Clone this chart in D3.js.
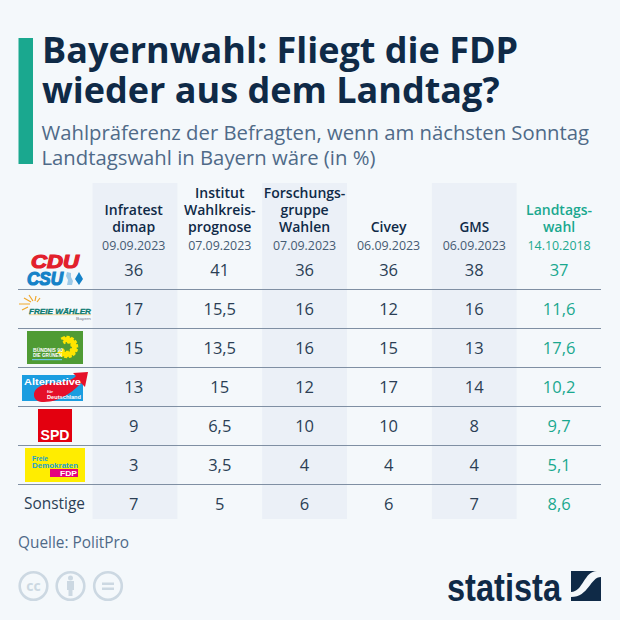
<!DOCTYPE html>
<html>
<head>
<meta charset="utf-8">
<script src="https://cdn.jsdelivr.net/npm/d3@7"></script>
<style>
  html, body { margin: 0; padding: 0; background: #f4f8fb; }
  text { font-family: "Open Sans", sans-serif; }
</style>
</head>
<body>
<div id="chart"></div>
<script>
// the data
var institutes = [
  ["Infratest", "dimap"],
  ["Institut", "Wahlkreis-", "prognose"],
  ["Forschungs-", "gruppe", "Wahlen"],
  ["Civey"],
  ["GMS"],
  ["Landtags-", "wahl"]
];
var dates = ["09.09.2023", "07.09.2023", "07.09.2023", "06.09.2023", "06.09.2023", "14.10.2018"];
var parties = ["CDU/CSU", "Freie Wähler", "Grüne", "AfD", "SPD", "FDP", "Sonstige"];
var infratest = ["36", "17", "15", "13", "9", "3", "7"];
var wahlkreis = ["41", "15,5", "13,5", "15", "6,5", "3,5", "5"];
var forschung = ["36", "16", "16", "12", "10", "4", "6"];
var civey = ["36", "12", "15", "17", "10", "4", "6"];
var gms = ["38", "16", "13", "14", "8", "4", "7"];
var landtag = ["37", "11,6", "17,6", "10,2", "9,7", "5,1", "8,6"];
var columns = [infratest, wahlkreis, forschung, civey, gms, landtag];

var dark = "#0f2a47", green = "#1aa88f", grey = "#4f6a88", bg = "#f4f8fb";
var logoFont = "'Liberation Sans', sans-serif";

var svg = d3.select("#chart").append("svg")
  .attr("width", 620)
  .attr("height", 620)
  .style("display", "block");

svg.append("rect").attr("width", 620).attr("height", 620).attr("fill", bg);

// title block
svg.append("rect").attr("x", 18.5).attr("y", 38).attr("width", 14.5).attr("height", 126).attr("fill", green);

svg.selectAll(".title")
  .data(["Bayernwahl: Fliegt die FDP", "wieder aus dem Landtag?"])
  .enter().append("text")
  .attr("class", "title")
  .attr("x", 42)
  .attr("y", function (d, i) { return 63 + i * 40; })
  .attr("font-size", 36)
  .attr("font-weight", 700)
  .attr("fill", dark)
  .text(function (d) { return d; });

svg.selectAll(".subtitle")
  .data(["Wahlpräferenz der Befragten, wenn am nächsten Sonntag", "Landtagswahl in Bayern wäre (in %)"])
  .enter().append("text")
  .attr("class", "subtitle")
  .attr("x", 41.5)
  .attr("y", function (d, i) { return 140 + i * 24.5; })
  .attr("font-size", 20.3)
  .attr("fill", grey)
  .text(function (d) { return d; });

// scales for the table
var x = d3.scaleBand().domain(d3.range(6)).range([92.5, 601.5]).padding(0);
var y = d3.scaleBand().domain(parties).range([250.5, 523.5]).padding(0);

// text centre of a column, the first ones sit a little left of the band centre
function colCenter(c) {
  return x(c) + x.bandwidth() / 2 - (c === 0 ? 1.2 : c === 3 ? 0.8 : 0);
}

// shaded columns
svg.selectAll(".band")
  .data([0, 2, 4])
  .enter().append("rect")
  .attr("class", "band")
  .attr("x", function (d) { return x(d); })
  .attr("y", 183)
  .attr("width", x.bandwidth())
  .attr("height", 336)
  .attr("fill", "#ebf0f7");

// row lines
svg.selectAll(".rule")
  .data(parties.slice(0, 6))
  .enter().append("line")
  .attr("class", "rule")
  .attr("x1", 18)
  .attr("x2", 601)
  .attr("y1", function (d) { return Math.round(y(d) + y.bandwidth()) - 0.5; })
  .attr("y2", function (d) { return Math.round(y(d) + y.bandwidth()) - 0.5; })
  .attr("stroke", "#7f8fa3")
  .attr("stroke-width", 1);

// column headers
institutes.forEach(function (lines, c) {
  var cx = colCenter(c);
  var col = c === 5 ? green : dark;
  lines.forEach(function (line, i) {
    svg.append("text")
      .attr("x", cx)
      .attr("y", 232 - (lines.length - 1 - i) * 17)
      .attr("text-anchor", "middle")
      .attr("font-size", line === "GMS" ? 13.5 : 14)
      .attr("font-weight", 600)
      .attr("fill", col)
      .text(line);
  });
  svg.append("text")
    .attr("x", cx)
    .attr("y", 250)
    .attr("text-anchor", "middle")
    .attr("font-size", 12.4)
    .attr("fill", c === 5 ? green : "#465b73")
    .text(dates[c]);
});

// the values
columns.forEach(function (values, c) {
  svg.selectAll(".val" + c)
    .data(values)
    .enter().append("text")
    .attr("class", "val" + c)
    .attr("x", colCenter(c))
    .attr("y", function (d, i) { return y(parties[i]) + y.bandwidth() / 2 + 6; })
    .attr("text-anchor", "middle")
    .attr("font-size", 16.5)
    .attr("fill", c === 5 ? green : "#2b3f55")
    .text(function (d) { return d; });
});

// party logos
function rect(g, a, b, w, h, fill) {
  return g.append("rect").attr("x", a).attr("y", b).attr("width", w).attr("height", h).attr("fill", fill);
}
function label(g, a, b, size, fill, txt, len) {
  var t = g.append("text").attr("x", a).attr("y", b).attr("font-size", size)
    .attr("font-weight", 700).attr("fill", fill)
    .style("font-family", logoFont).text(txt);
  if (len) t.attr("textLength", len).attr("lengthAdjust", "spacingAndGlyphs");
  return t;
}

// cdu / csu
var cdu = svg.append("g");
label(cdu, 31, 268, 19, "#e2202c", "CDU", 48).attr("font-style", "italic").attr("stroke", "#e2202c").attr("stroke-width", 1.2);
label(cdu, 27, 285, 18, "#1582c8", "CSU", 36).attr("font-style", "italic").attr("stroke", "#1582c8").attr("stroke-width", 1.2);
cdu.append("path").attr("d", "M67 272 L71 273 L71 277 L73 281 L72 285 L67 285 L68 280 L66 276 Z").attr("fill", "#9cc9e8");
cdu.append("path").attr("d", "M79 272 L83 279 L79 285 L75 279 Z").attr("fill", "#1582c8");

// freie waehler
var fw = svg.append("g");
fw.append("path").attr("d", "M19 304 L30 304 M24 298 L31 302 M29 295 L33 301 M36 296 L35 301 M40 298 L37 302 M22 310 L28 307")
  .attr("stroke", "#f0a72b").attr("stroke-width", 1.2).attr("fill", "none");
label(fw, 29, 313.5, 7.5, "#0c7a70", "FREIE WÄHLER", 62).attr("font-style", "italic").attr("stroke", "#0c7a70").attr("stroke-width", 0.3);
rect(fw, 29, 314.5, 62, 0.6, "#e8c060");
label(fw, 76, 320, 4, "#778", "Bayern", 15).attr("font-weight", 400);

// gruene
var gr = svg.append("g");
rect(gr, 27, 331, 56, 33, "#4f9b34");
var sun = d3.arc().innerRadius(5).outerRadius(10).startAngle(-0.5).endAngle(Math.PI * 1.3);
gr.append("path").attr("transform", "translate(67,347)").attr("d", sun()).attr("fill", "#ffe500")
  .attr("stroke", "#ffe500").attr("stroke-width", 2.5).attr("stroke-dasharray", "3 1.5");
label(gr, 33, 351.5, 4.6, "#fff", "BÜNDNIS 90", 30);
label(gr, 33, 357, 4.6, "#fff", "DIE GRÜNEN", 29);
rect(gr, 32, 359, 30, 1.2, "#6cc5e8");

// afd
var afd = svg.append("g");
rect(afd, 22, 375, 61, 26, "#1a9de0");
afd.append("path")
  .attr("d", "M34 396 C33 388 42 384 52 383 C62 382 72 381 76 376 L73 373 L88 372 L85 387 L81 383 C74 391 60 402 44 402 C38 402 35 400 34 396 Z")
  .attr("fill", "#e5102a");
label(afd, 24, 385, 9, "#fff", "Alternative", 57);
label(afd, 47, 393, 3.5, "#fff", "für", 6);
label(afd, 47, 399, 4.8, "#fff", "Deutschland", 34);

// spd
var spd = svg.append("g");
rect(spd, 38, 409, 34, 33, "#e3000f");
label(spd, 40.5, 440, 14, "#fff", "SPD", 29);

// fdp
var fdp = svg.append("g");
rect(fdp, 25, 448, 60, 34, "#ffed00");
label(fdp, 32, 460.5, 6.5, "#1a9fd0", "Freie", 16);
label(fdp, 32, 467.5, 6.5, "#1a9fd0", "Demokraten", 46);
rect(fdp, 50, 469, 28, 8, "#e5007d");
label(fdp, 60, 475.7, 6.5, "#fff", "FDP", 17);

svg.append("text")
  .attr("x", 54.5)
  .attr("y", y("Sonstige") + y.bandwidth() / 2 + 5)
  .attr("text-anchor", "middle")
  .attr("font-size", 15.4)
  .attr("fill", "#2b3f55")
  .text("Sonstige");

// source
svg.append("text").attr("x", 18).attr("y", 548).attr("font-size", 15.4).attr("fill", grey).text("Quelle: PolitPro");

// licence icons
var ccColor = "#ccd8e2";
[33.5, 70.5, 108].forEach(function (cx) {
  svg.append("circle").attr("cx", cx).attr("cy", 586).attr("r", 13.8)
    .attr("fill", "none").attr("stroke", ccColor).attr("stroke-width", 2.6);
});
svg.append("text").attr("x", 33.5).attr("y", 590.5).attr("text-anchor", "middle").attr("font-size", 14).attr("font-weight", 700).attr("fill", ccColor).text("cc");
svg.append("circle").attr("cx", 70.5).attr("cy", 578).attr("r", 2.5).attr("fill", ccColor);
rect(svg, 67, 581, 7, 9, ccColor);
rect(svg, 68.5, 589, 4, 7, ccColor);
rect(svg, 102, 582.5, 12, 2.5, ccColor);
rect(svg, 102, 587.5, 12, 2.5, ccColor);

// statista logo
svg.append("text")
  .attr("x", 447)
  .attr("y", 601)
  .style("font-family", "'Liberation Sans Narrow', 'Liberation Sans', sans-serif")
  .attr("font-size", 39)
  .attr("font-weight", 700)
  .attr("fill", dark)
  .attr("textLength", 114)
  .attr("lengthAdjust", "spacingAndGlyphs")
  .text("statista");
var logo = svg.append("g");
rect(logo, 571, 571, 30, 30, dark);
logo.append("path")
  .attr("d", "M571 592 C583 592 584 571 597 571 L601 571 L601 577 C590 577 589 597 571 597 Z")
  .attr("fill", bg);
</script>
</body>
</html>
